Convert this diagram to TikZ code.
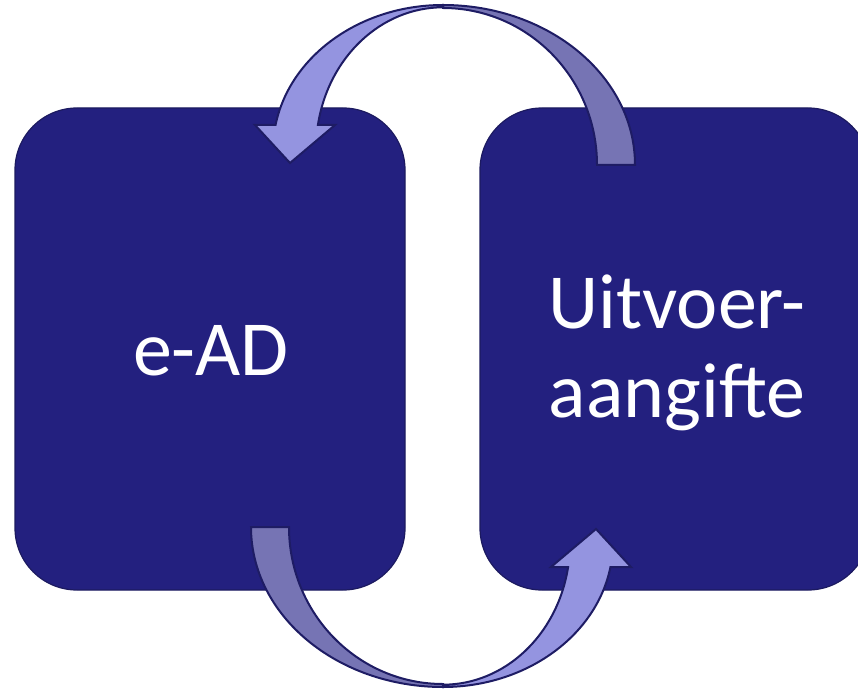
\documentclass[tikz,border=0pt]{standalone}
\usepackage{fontspec}
\setmainfont{Carlito}
\definecolor{boxnavy}{RGB}{35,32,127}
\definecolor{boxedge}{RGB}{28,26,96}
\definecolor{arrowedge}{RGB}{30,28,100}
\definecolor{lightarrow}{RGB}{148,148,224}
\definecolor{darkarrow}{RGB}{118,116,180}
\tikzset{
  roundbox/.style={draw=boxedge, line width=1.2pt, fill=boxnavy, rounded corners=62pt,
    minimum width=390pt, minimum height=482pt, inner sep=0pt},
  bigtext/.style={text=white, font=\fontsize{78}{94}\selectfont, inner sep=0pt, anchor=base},
  lightpiece/.style={draw=arrowedge, line width=2pt, fill=lightarrow, line join=miter},
  darkpiece/.style={draw=arrowedge, line width=2pt, fill=darkarrow, line join=miter}
}
\begin{document}
\begin{tikzpicture}[x=1pt,y=1pt]
\useasboundingbox (0,0) rectangle (858,689);
\clip (0,0) rectangle (858,689);
% boxes
\node[roundbox] (L) at (210,340) {};
\node[roundbox] (R) at (675,340) {};
% texts
\node[bigtext] (ead) at (211,314) {e-AD};
\node[bigtext] (r1) at (677,361) {Uitvoer-};
\node[bigtext] (r2) at (677,272) {aangifte};
% top arrows
\newcommand{\arcpair}{%
  \draw[darkpiece] (443,684) arc[start angle=90,end angle=0,x radius=192,y radius=160]
    -- (597,524) arc[start angle=0,end angle=90,x radius=154,y radius=157] -- cycle;
  \draw[lightpiece] (443,684) arc[start angle=90,end angle=170.07,x radius=170,y radius=145]
    -- (255,564) -- (290,526) -- (335,564) -- (317.9,564)
    arc[start angle=170.14,end angle=90,x radius=127,y radius=142] -- cycle;
}
\arcpair
\begin{scope}[rotate around={180:(443,343)}]
\arcpair
\end{scope}
\end{tikzpicture}
\end{document}
